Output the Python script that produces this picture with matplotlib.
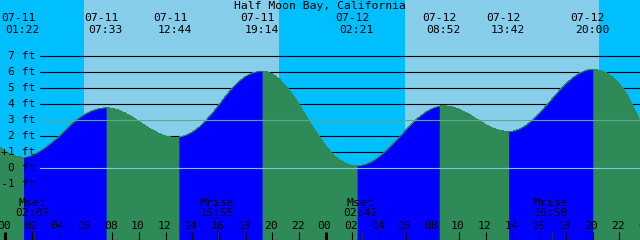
import numpy as np
import matplotlib
matplotlib.use("Agg")
import matplotlib.pyplot as plt
import matplotlib.transforms as mtransforms

title = "Half Moon Bay, California"

# tide height: hours from 07-11 00:00, feet
tide_hours = [-0.40, 0.0, 0.5, 1.0, 1.367, 1.5, 2.0, 2.5, 3.0, 3.5, 4.0, 4.5, 5.0, 5.5,
              6.0, 6.5, 7.0, 7.5, 7.55, 8.0, 8.5, 9.0, 9.5, 10.0, 10.5, 11.0, 11.5,
              12.0, 12.5, 12.733, 13.0, 13.5, 14.0, 14.5, 15.0, 15.5, 16.0, 16.5,
              17.0, 17.5, 18.0, 18.5, 19.0, 19.233, 19.5, 20.0, 20.5, 21.0, 21.5,
              22.0, 22.5, 23.0, 23.5, 24.0, 24.5, 25.0, 25.5, 26.0, 26.35, 26.5,
              27.0, 27.5, 28.0, 28.5, 29.0, 29.5, 30.0, 30.5, 31.0, 31.5, 32.0,
              32.5, 32.867, 33.0, 33.5, 34.0, 34.5, 35.0, 35.5, 36.0, 36.5, 37.0,
              37.5, 37.7, 38.0, 38.5, 39.0, 39.5, 40.0, 40.5, 41.0, 41.5, 42.0,
              42.5, 43.0, 43.5, 44.0, 44.5, 45.0, 45.5, 46.0, 46.5, 47.0, 47.54]
tide_ft = [1.33, 1.07, 0.85, 0.72, 0.69, 0.70, 0.80, 1.03, 1.30, 1.63, 1.97, 2.40, 2.80, 3.13,
           3.41, 3.60, 3.73, 3.79, 3.79, 3.76, 3.64, 3.45, 3.21, 2.94, 2.66, 2.40, 2.18,
           2.02, 1.94, 1.93, 1.95, 2.06, 2.27, 2.58, 2.99, 3.45, 3.98, 4.53,
           5.03, 5.44, 5.76, 5.96, 6.07, 6.08, 6.06, 5.90, 5.59, 5.16, 4.62,
           4.00, 3.30, 2.62, 2.00, 1.40, 0.90, 0.54, 0.30, 0.18, 0.16, 0.165,
           0.25, 0.44, 0.73, 1.09, 1.50, 1.95, 2.40, 2.83, 3.22, 3.53, 3.76,
           3.89, 3.91, 3.905, 3.84, 3.69, 3.49, 3.24, 2.98, 2.74, 2.53, 2.38,
           2.31, 2.30, 2.32, 2.45, 2.69, 3.03, 3.45, 3.91, 4.39, 4.87, 5.30,
           5.67, 5.95, 6.13, 6.19, 6.13, 5.97, 5.70, 5.28, 4.72, 3.92, 2.95]

# highs and lows
event_dates = ["07-11", "07-11", "07-11", "07-11", "07-12", "07-12", "07-12", "07-12"]
event_times = ["01:22", "07:33", "12:44", "19:14", "02:21", "08:52", "13:42", "20:00"]
event_kind = ["low", "high", "low", "high", "low", "high", "low", "high"]

# daylight (hours from 07-11 00:00)
sunrise = [5.92, 29.93]
sunset = [20.47, 44.47]

moon_names = ["Mset", "Mrise", "Mset", "Mrise"]
moon_dates = ["07-11", "07-11", "07-12", "07-12"]
moon_times = ["02:07", "15:55", "02:42", "16:58"]

ft_levels = [7, 6, 5, 4, 3, 2, 1, 0, -1]
ft_labels = ["7 ft", "6 ft", "5 ft", "4 ft", "3 ft", "2 ft", "+1 ft", "0 ft", "-1 ft"]
hour_ticks = list(range(0, 49, 2))

night_color = "#00bfff"
day_color = "#87ceeb"
flood_color = "#0000ff"
ebb_color = "#2e8b57"
msl_color = "#5aa88f"
datum_color = "#80c8e8"


def to_hours(date, hhmm):
    day = 0 if date == "07-11" else 1
    hh, mm = hhmm.split(":")
    return day * 24 + int(hh) + int(mm) / 60


t = np.array(tide_hours)
h = np.array(tide_ft)
x0, x1 = -0.40, 47.54
y0, y1 = -4.48, 10.52

fig = plt.figure(figsize=(6.4, 2.4), dpi=100)
ax = fig.add_axes([0, 0, 1, 1])
ax.set_xlim(x0, x1)
ax.set_ylim(y0, y1)
ax.axis("off")
ax.add_patch(plt.Rectangle((0, 0), 1, 1, transform=ax.transAxes, color=night_color, zorder=0))
for a, b in zip(sunrise, sunset):
    ax.axvspan(a, b, color=day_color, lw=0, zorder=0.5, antialiased=False)

font = dict(family="DejaVu Sans Mono", size=8.2, color="black")
lab_x = 35 / 640
line_x = 39.5 / 640
yt = mtransforms.blended_transform_factory(ax.transAxes, ax.transData)
xt = mtransforms.blended_transform_factory(ax.transData, ax.transAxes)

# height grid
for lvl, lab in zip(ft_levels, ft_labels):
    if lvl == 3:
        ax.axhline(lvl, xmin=line_x, color=msl_color, lw=0.8, zorder=3)
    elif lvl == 0:
        ax.axhline(lvl, xmin=line_x, color=datum_color, lw=0.8, zorder=3)
    else:
        ax.axhline(lvl, xmin=line_x, color="black", lw=0.8, zorder=1)
    ax.text(lab_x, lvl, lab, transform=yt, ha="right", va="center", zorder=5, **font)

# water: green everywhere, blue over the rising stretches
ev_hours = [to_hours(d, s) for d, s in zip(event_dates, event_times)]
ax.fill_between(t, y0, h, color=ebb_color, lw=0, zorder=2, antialiased=False)
for a, b, k in zip(ev_hours[:-1], ev_hours[1:], event_kind[:-1]):
    if k == "low":
        m = (t >= a - 1e-6) & (t <= b + 1e-6)
        ax.fill_between(t[m], y0, h[m], color=flood_color, lw=0, zorder=2.1,
                        antialiased=False)

ax.text(0.5, 0.975, title, transform=ax.transAxes, ha="center", va="center", **font)
for d, s, eh in zip(event_dates, event_times, ev_hours):
    ax.text(eh - 0.37, 0.927, d, transform=xt, ha="center", va="center", **font)
    ax.text(eh - 0.05, 0.877, s, transform=xt, ha="center", va="center", **font)

# moon rise / set
for n, d, s in zip(moon_names, moon_dates, moon_times):
    mh = to_hours(d, s)
    ax.text(mh - 0.11, 0.153, n, transform=xt, ha="center", va="center", zorder=5, **font)
    ax.text(mh - 0.11, 0.111, s, transform=xt, ha="center", va="center", zorder=5, **font)
    ax.vlines(mh, 0, 0.033, transform=xt, color="#303030", lw=0.6, zorder=4)

# hour axis
for hr in hour_ticks:
    ax.text(hr - 0.1, 0.059, "%02d" % (hr % 24), transform=xt, ha="center", va="center",
            zorder=5, **font)
    ax.vlines(hr, 0, 0.033, transform=xt, color="black",
              lw=2.2 if hr % 24 == 0 else 0.8, zorder=4)

fig.savefig("out.png", dpi=100)
